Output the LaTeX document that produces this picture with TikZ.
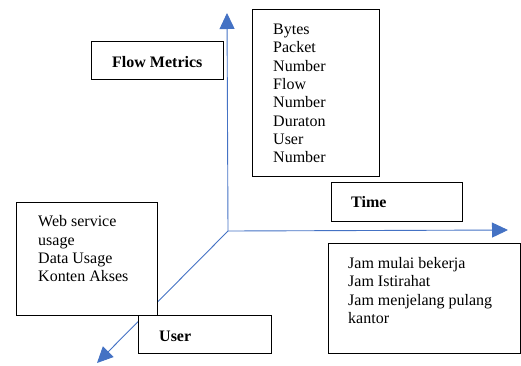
\documentclass[tikz,border=0pt]{standalone}
\usepackage{fontspec}
\setmainfont{Liberation Serif}
\usetikzlibrary{arrows.meta}

\begin{document}
\begin{tikzpicture}[x=1pt,y=-1pt,
  axis arrow/.style={
      draw={rgb,255:red,68; green,114; blue,196},
      arrows={-Triangle[length=16pt,width=15pt]},
      line width=0.9pt
    },
  box/.style={
      draw=black,
      fill=white,
      line width=1.2pt,
      inner sep=0pt,
      anchor=north west
    },
  label/.style={
      font=\rmfamily\fontsize{16}{18.3}\selectfont,
      align=left,
      inner sep=0pt,
      anchor=base west
    },
  title/.style={
      label,
      font=\rmfamily\fontsize{16}{18.3}\selectfont\bfseries
    }]

  \useasboundingbox (0,0) rectangle (521,365);

  % axes
  \coordinate (o) at (228,231);
  \coordinate (up) at (227,13);
  \coordinate (right) at (508,230);
  \coordinate (down) at (97,363);
  \draw [axis arrow] (o) -- (up);
  \draw [axis arrow] (o) -- (right);
  \draw [axis arrow] (o) -- (down);

  % boxes
  \node [box, minimum width=132pt, minimum height=38pt] (flow) at (91,41) {};
  \node [box, minimum width=127pt, minimum height=167pt] (metrics) at (252,9) {};
  \node [box, minimum width=131pt, minimum height=39pt] (time) at (331,182) {};
  \node [box, minimum width=192pt, minimum height=110pt] (jam) at (328,243) {};
  \node [box, minimum width=141pt, minimum height=113pt] (web) at (16,202) {};
  \node [box, minimum width=133pt, minimum height=38pt] (user) at (138,315) {};

  % texts (base = last line)
  \node [title] (flow_label) at (112,67) {Flow Metrics};
  \node [title] (time_label) at (351,207) {Time};
  \node [title] (user_label) at (159,341) {User};
  \node [label] (metrics_label) at (273,162.7) {Bytes\\Packet\\Number\\Flow\\Number\\Duraton\\User\\Number};
  \node [label] (web_label) at (38,281.7) {Web service\\usage\\Data Usage\\Konten Akses};
  \node [label] (jam_label) at (348,323.3) {Jam mulai bekerja\\Jam Istirahat\\Jam menjelang pulang\\kantor};
\end{tikzpicture}
\end{document}
